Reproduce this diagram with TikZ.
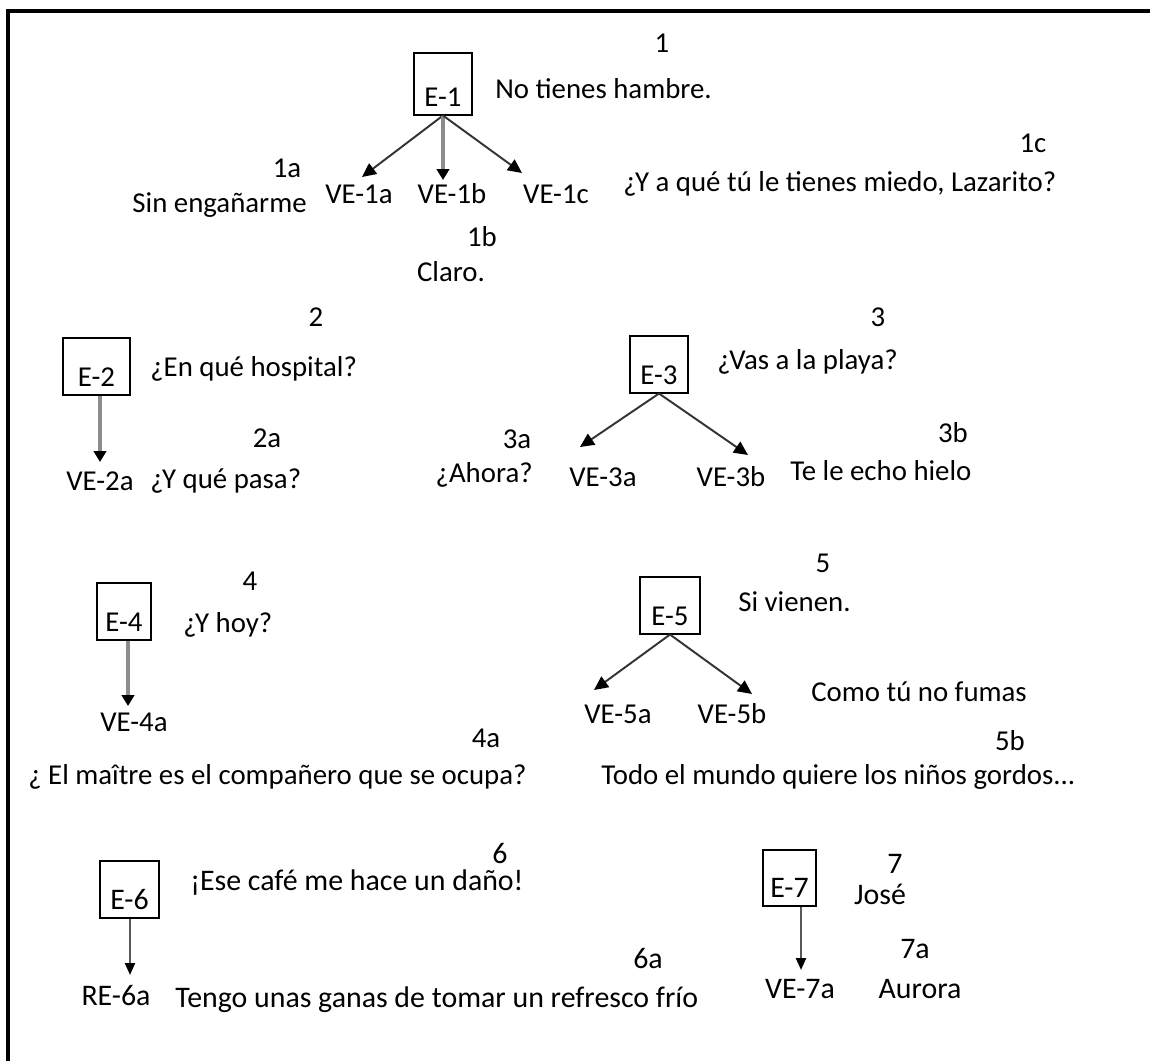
\documentclass[tikz,border=0pt]{standalone}
\usepackage{fontspec}
\setmainfont{Carlito}
\usetikzlibrary{arrows.meta}

\tikzset{
  txt/.style={inner sep=0pt,text height=1.5ex,text depth=.25ex,font=\fontsize{16.4}{19}\selectfont},
  low/.style={font=\fontsize{17}{20}\selectfont},
  ebox/.style={draw,line width=.9pt,inner xsep=0pt,inner ysep=.05cm,text height=.91cm,text depth=.12cm,
    minimum width=1.15cm,font=\fontsize{16.4}{19}\selectfont},
  darr/.style={-{Triangle[length=.28cm,width=.26cm,color=black]},line width=1.1pt,black!80},
  garr/.style={-{Triangle[length=.22cm,width=.25cm,color=black]},line width=2.2pt,black!45},
  tarr/.style={-{Triangle[length=.24cm,width=.2cm,color=black]},line width=1.3pt,black!65}
}

\begin{document}
\begin{tikzpicture}[x=.02cm,y=-.02cm]
\path[use as bounding box] (0,0) rectangle (1150,1061);
\draw[line width=2pt] (8,1061) -- (8,11) -- (1150,11);

% E-1
\node[txt] (n1) at (662,47) {1};
\node[ebox,text height=1.01cm] (e1) at (443,84) {E-1};
\node[txt,anchor=west] (t1) at (495,93) {No tienes hambre.};
\coordinate (p1a) at (362,177);
\coordinate (p1b) at (443,180);
\coordinate (p1c) at (522,173);
\draw[darr] (e1.south) -- (p1a);
\draw[garr] (e1.south) -- (p1b);
\draw[darr] (e1.south) -- (p1c);
\node[txt] (n1a) at (287,172) {1a};
\node[txt,anchor=east] (t1a) at (307,207) {Sin engañarme};
\node[txt] (v1a) at (359,198) {VE-1a};
\node[txt] (v1b) at (452,198) {VE-1b};
\node[txt] (v1c) at (556,198) {VE-1c};
\node[txt] (n1b) at (482,241) {1b};
\node[txt] (t1b) at (451,276) {Claro.};
\node[txt] (n1c) at (1033,147) {1c};
\node[txt,anchor=west] (t1c) at (623,186) {¿Y a qué tú le tienes miedo, Lazarito?};

% E-2
\node[txt] (n2) at (316,321) {2};
\node[ebox,minimum width=1.34cm] (e2) at (96.5,366.5) {E-2};
\node[txt,anchor=west] (t2) at (150,371) {¿En qué hospital?};
\coordinate (p2a) at (100,462);
\draw[garr] (e2.south -| p2a) -- (p2a);
\node[txt] (v2a) at (100,485) {VE-2a};
\node[txt] (n2a) at (267,442) {2a};
\node[txt,anchor=west] (t2a) at (150,483) {¿Y qué pasa?};

% E-3
\node[txt] (n3) at (878,321) {3};
\node[ebox] (e3) at (659,364.5) {E-3};
\node[txt,anchor=west] (t3) at (717,364) {¿Vas a la playa?};
\coordinate (p3a) at (580,447);
\coordinate (p3b) at (748,455);
\draw[darr] (e3.south) -- (p3a);
\draw[darr] (e3.south) -- (p3b);
\node[txt] (n3a) at (517,443) {3a};
\node[txt,anchor=east] (t3a) at (533,477) {¿Ahora?};
\node[txt] (v3a) at (603,481) {VE-3a};
\node[txt] (v3b) at (731,481) {VE-3b};
\node[txt] (n3b) at (953,437) {3b};
\node[txt,anchor=west] (t3b) at (790,475) {Te le echo hielo};

% E-4
\node[txt] (n4) at (250,585) {4};
\node[ebox,minimum width=1.08cm] (e4) at (124,611.5) {E-4};
\node[txt,anchor=west] (t4) at (183,627) {¿Y hoy?};
\coordinate (p4a) at (128,706);
\draw[garr] (e4.south -| p4a) -- (p4a);
\node[txt] (v4a) at (134,726) {VE-4a};
\node[txt] (n4a) at (486,742) {4a};
\node[txt,anchor=west] (t4a) at (28,779) {¿ El maître es el compañero que se ocupa?};

% E-5
\node[txt] (n5) at (823,567) {5};
\node[ebox,minimum width=1.2cm] (e5) at (670,605.5) {E-5};
\node[txt,anchor=west] (t5) at (738,606) {Si vienen.};
\coordinate (p5a) at (594,690);
\coordinate (p5b) at (752,694);
\draw[darr] (e5.south) -- (p5a);
\draw[darr] (e5.south) -- (p5b);
\node[txt] (v5a) at (618,718) {VE-5a};
\node[txt] (v5b) at (732,718) {VE-5b};
\node[txt,anchor=west] (t5a) at (811,696) {Como tú no fumas};
\node[txt] (n5b) at (1010,745) {5b};
\node[txt,anchor=west] (t5b) at (601,779) {Todo el mundo quiere los niños gordos...};

% E-6
\node[txt,low] (n6) at (500,858) {6};
\node[ebox,low,minimum width=1.18cm] (e6) at (129.5,889.5) {E-6};
\node[txt,low,anchor=west] (t6) at (190,885) {¡Ese café me hace un daño!};
\coordinate (p6a) at (130,975);
\draw[tarr] (e6.south -| p6a) -- (p6a);
\node[txt,low] (v6a) at (116,1000) {RE-6a};
\node[txt,low] (n6a) at (648,963) {6a};
\node[txt,low,anchor=west] (t6a) at (175,1002) {Tengo unas ganas de tomar un refresco frío};

% E-7
\node[txt,low] (n7) at (895,868) {7};
\node[ebox,low,minimum width=1.06cm] (e7) at (789.5,878) {E-7};
\node[txt,low] (t7) at (880,899) {José};
\coordinate (p7a) at (801,970);
\draw[tarr] (e7.south -| p7a) -- (p7a);
\node[txt,low] (v7a) at (800,993) {VE-7a};
\node[txt,low] (n7a) at (915,953) {7a};
\node[txt,low] (t7a) at (920,993) {Aurora};
\end{tikzpicture}
\end{document}
